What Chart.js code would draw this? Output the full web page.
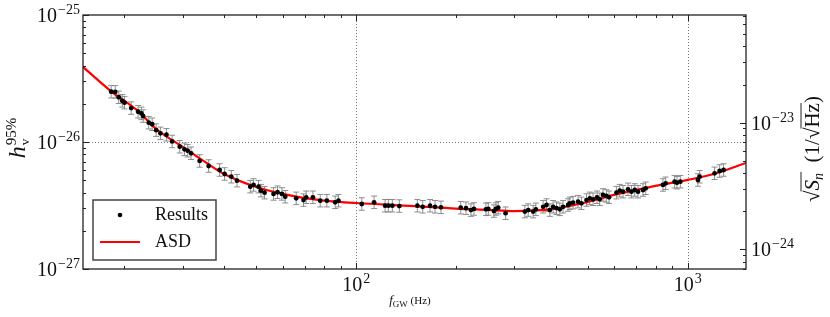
<!DOCTYPE html>
<html>
<head>
<meta charset="utf-8">
<script src="https://cdn.jsdelivr.net/npm/chart.js@4.4.1/dist/chart.umd.min.js"></script>
<style>
  html, body { margin: 0; padding: 0; background: #fff; }
</style>
</head>
<body>
<canvas id="chart" width="830" height="317"></canvas>
<script>
// 95% upper limits per frequency bin
const resultFreqs = [
  18.24, 18.76, 19.23, 19.70, 20.01, 20.96, 22.00, 22.51, 22.78, 23.68,
  24.25, 24.93, 25.68, 26.78, 27.86, 29.37, 30.34, 31.04, 31.78, 33.73,
  35.91, 38.75, 40.11, 42.02, 43.72, 47.94, 49.05, 50.77, 51.64, 52.94,
  56.35, 57.94, 59.73, 61.11, 65.96, 69.38, 70.69, 74.06, 77.92, 81.61,
  86.45, 88.46, 104.0, 113.3, 122.3, 125.1, 128.6, 135.0, 153.0, 158.8,
  167.1, 173.0, 180.3, 206.8, 214.5, 222.0, 226.7, 246.4, 250.4, 260.4,
  264.1, 268.3, 282.4, 322.8, 330.4, 342.0, 348.5, 366.6, 375.3, 384.0,
  392.9, 402.2, 411.5, 421.0, 435.9, 441.0, 451.2, 467.2, 478.3, 495.3,
  506.8, 518.5, 533.0, 543.0, 555.6, 568.8, 579.4, 609.8, 624.0, 638.5,
  661.1, 676.8, 692.5, 708.5, 733.5, 747.3, 842.5, 858.4, 913.6, 928.5,
  950.6, 1074, 1087, 1206, 1249, 1284
];
const resultLimits = [
  2.49e-26, 2.48e-26, 2.25e-26, 2.11e-26, 2.04e-26, 1.85e-26, 1.73e-26, 1.68e-26, 1.60e-26, 1.42e-26,
  1.38e-26, 1.24e-26, 1.17e-26, 1.14e-26, 1.01e-26, 9.18e-27, 8.76e-27, 8.54e-27, 8.15e-27, 7.09e-27,
  6.47e-27, 6.02e-27, 5.60e-27, 5.33e-27, 4.96e-27, 4.45e-27, 4.59e-27, 4.45e-27, 4.14e-27, 3.99e-27,
  3.90e-27, 4.02e-27, 3.90e-27, 3.71e-27, 3.60e-27, 3.49e-27, 3.67e-27, 3.67e-27, 3.45e-27, 3.45e-27,
  3.35e-27, 3.45e-27, 3.25e-27, 3.35e-27, 3.15e-27, 3.15e-27, 3.15e-27, 3.13e-27, 3.15e-27, 3.09e-27,
  3.15e-27, 3.09e-27, 3.06e-27, 3.04e-27, 3.01e-27, 2.91e-27, 2.97e-27, 2.95e-27, 2.97e-27, 2.86e-27,
  2.97e-27, 3.04e-27, 2.75e-27, 2.83e-27, 2.91e-27, 2.83e-27, 2.95e-27, 3.09e-27, 3.19e-27, 2.91e-27,
  3.09e-27, 3.01e-27, 2.95e-27, 3.09e-27, 3.19e-27, 3.29e-27, 3.33e-27, 3.39e-27, 3.29e-27, 3.49e-27,
  3.60e-27, 3.54e-27, 3.67e-27, 3.54e-27, 3.83e-27, 3.76e-27, 3.67e-27, 3.99e-27, 4.14e-27, 4.06e-27,
  4.24e-27, 4.06e-27, 4.19e-27, 4.06e-27, 4.19e-27, 4.32e-27, 4.59e-27, 4.73e-27, 4.87e-27, 4.78e-27,
  4.87e-27, 5.02e-27, 5.33e-27, 5.67e-27, 5.91e-27, 6.02e-27
];
const errFactor = 1.12; // grey bars, multiplicative half-length

// detector ASD scaled to the same axis
const asdFreqs = [15, 18.2, 22, 25, 30, 35, 40, 50, 60, 70, 80, 100, 150, 200, 250, 300, 350, 400, 500, 600, 700, 800, 1000, 1200, 1500];
const asdValues = [
  3.90e-26, 2.52e-26, 1.75e-26, 1.26e-26, 9.14e-27, 6.97e-27, 5.60e-27, 4.42e-27, 3.90e-27, 3.62e-27,
  3.46e-27, 3.31e-27, 3.13e-27, 2.99e-27, 2.92e-27, 2.86e-27, 2.89e-27, 2.99e-27, 3.37e-27, 3.83e-27,
  4.19e-27, 4.51e-27, 5.03e-27, 5.60e-27, 6.84e-27
];

const xMajorTicks = [100, 1000];
const xMajorLabels = ["2", "3"];
const yMajorTicks = [1e-27, 1e-26, 1e-25];
const yMajorLabels = ["\u221227", "\u221226", "\u221225"];
const y2MajorTicks = [1e-24, 1e-23];
const y2MajorLabels = ["\u221224", "\u221223"];

const serif = '"Liberation Serif", "DejaVu Serif", serif';

function logTicks(min, max) {
  const out = [];
  const lo = Math.floor(Math.log10(min));
  const hi = Math.ceil(Math.log10(max));
  for (let d = lo; d <= hi; d++) {
    for (let m = 1; m < 10; m++) {
      const v = m * Math.pow(10, d);
      if (v >= min * 0.999 && v <= max * 1.001) out.push({ v: v, major: m === 1 });
    }
  }
  return out;
}

function drawPow(ctx, exp, x, yc, align) {
  ctx.font = "20px " + serif;
  const bw = ctx.measureText("10").width;
  ctx.font = "14px " + serif;
  const ew = ctx.measureText(exp).width;
  let left = x;
  if (align === "right") left = x - bw - ew - 1;
  if (align === "center") left = x - (bw + ew + 1) / 2;
  ctx.textAlign = "left";
  ctx.textBaseline = "alphabetic";
  ctx.font = "20px " + serif;
  ctx.fillText("10", left, yc + 7);
  ctx.font = "14px " + serif;
  ctx.fillText(exp, left + bw + 1, yc - 1);
}

// runs of text along a baseline, centred on x; returns each run's start
function drawRuns(ctx, runs, x, y) {
  let w = 0;
  runs.forEach((r) => {
    ctx.font = r.font;
    r.w = ctx.measureText(r.text).width;
    w += r.w;
  });
  let cx = x - w / 2;
  ctx.textAlign = "left";
  ctx.textBaseline = "alphabetic";
  return runs.map((r) => {
    ctx.font = r.font;
    ctx.fillText(r.text, cx, y + (r.dy || 0));
    const start = cx;
    cx += r.w;
    return start;
  });
}

const axesPlugin = {
  id: "axesPlugin",
  beforeDatasetsDraw(chart) {
    const { ctx, chartArea: a } = chart;
    const xs = chart.scales.x, ys = chart.scales.y;
    ctx.save();
    // dotted grid at major ticks
    ctx.strokeStyle = "#777";
    ctx.lineWidth = 1;
    ctx.setLineDash([1, 2]);
    xMajorTicks.forEach((v) => {
      const px = Math.round(xs.getPixelForValue(v)) + 0.5;
      ctx.beginPath(); ctx.moveTo(px, a.top); ctx.lineTo(px, a.bottom); ctx.stroke();
    });
    yMajorTicks.forEach((v) => {
      const py = Math.round(ys.getPixelForValue(v)) + 0.5;
      if (py <= a.top + 1 || py >= a.bottom - 1) return;
      ctx.beginPath(); ctx.moveTo(a.left, py); ctx.lineTo(a.right, py); ctx.stroke();
    });
    ctx.setLineDash([]);
    // error bars
    ctx.strokeStyle = "rgba(130,130,130,0.9)";
    ctx.lineWidth = 1;
    chart.data.datasets[1].data.forEach((p) => {
      const px = xs.getPixelForValue(p.x);
      const top = ys.getPixelForValue(p.y * errFactor);
      const bot = ys.getPixelForValue(p.y / errFactor);
      ctx.beginPath();
      ctx.moveTo(px, top); ctx.lineTo(px, bot);
      ctx.moveTo(px - 3, top); ctx.lineTo(px + 3, top);
      ctx.moveTo(px - 3, bot); ctx.lineTo(px + 3, bot);
      ctx.stroke();
    });
    ctx.restore();
  },
  afterDraw(chart) {
    const { ctx, chartArea: a } = chart;
    const xs = chart.scales.x, ys = chart.scales.y, y2 = chart.scales.y2;
    ctx.save();
    ctx.strokeStyle = "#222";
    ctx.fillStyle = "#222";
    ctx.lineWidth = 1;
    // inward ticks
    ctx.beginPath();
    logTicks(xs.min, xs.max).forEach((t) => {
      const px = Math.round(xs.getPixelForValue(t.v)) + 0.5;
      const len = t.major ? 6 : 3;
      ctx.moveTo(px, a.bottom); ctx.lineTo(px, a.bottom - len);
      ctx.moveTo(px, a.top); ctx.lineTo(px, a.top + len);
    });
    logTicks(ys.min, ys.max).forEach((t) => {
      const py = Math.round(ys.getPixelForValue(t.v)) + 0.5;
      const len = t.major ? 6 : 3;
      ctx.moveTo(a.left, py); ctx.lineTo(a.left + len, py);
    });
    logTicks(y2.min, y2.max).forEach((t) => {
      const py = Math.round(y2.getPixelForValue(t.v)) + 0.5;
      const len = t.major ? 6 : 3;
      ctx.moveTo(a.right, py); ctx.lineTo(a.right - len, py);
    });
    ctx.stroke();
    // frame
    ctx.lineWidth = 1.3;
    ctx.strokeRect(a.left, a.top, a.right - a.left, a.bottom - a.top);

    // tick labels
    ctx.fillStyle = "#111";
    xMajorTicks.forEach((v, i) => drawPow(ctx, xMajorLabels[i], xs.getPixelForValue(v), 284, "center"));
    yMajorTicks.forEach((v, i) => drawPow(ctx, yMajorLabels[i], a.left - 3, ys.getPixelForValue(v), "right"));
    y2MajorTicks.forEach((v, i) => drawPow(ctx, y2MajorLabels[i], a.right + 5, y2.getPixelForValue(v), "left"));

    // x title
    drawRuns(ctx, [
      { text: "f", font: "italic 13px " + serif },
      { text: "GW", font: "9px " + serif, dy: 3 },
      { text: " (Hz)", font: "11px " + serif }
    ], 410, 304);

    // left title
    ctx.save();
    ctx.translate(25, 138);
    ctx.rotate(-Math.PI / 2);
    ctx.textBaseline = "alphabetic";
    ctx.textAlign = "left";
    ctx.font = "italic 24px " + serif;
    const hw = ctx.measureText("h").width;
    ctx.font = "15px " + serif;
    const sw = ctx.measureText("95%").width;
    const x0 = -(hw + sw + 1) / 2;
    ctx.font = "italic 24px " + serif;
    ctx.fillText("h", x0, 0);
    ctx.font = "15px " + serif;
    ctx.fillText("95%", x0 + hw + 1, -9);
    ctx.font = "13px " + serif;
    ctx.fillText("v", x0 + hw + 1, 4);
    ctx.restore();

    // right title
    ctx.save();
    ctx.translate(819, 149);
    ctx.rotate(-Math.PI / 2);
    const big = "21px " + serif;
    const runs = [
      { text: "\u221a", font: big },
      { text: "S", font: "italic 21px " + serif },
      { text: "n", font: "italic 14px " + serif, dy: 4 },
      { text: "  (1/", font: big },
      { text: "\u221a", font: big },
      { text: "Hz", font: big },
      { text: ")", font: big }
    ];
    const pos = drawRuns(ctx, runs, 0, 0);
    ctx.lineWidth = 1;
    ctx.beginPath();
    ctx.moveTo(pos[1] - 1, -18); ctx.lineTo(pos[2] + runs[2].w + 1, -18);
    ctx.moveTo(pos[5] - 1, -18); ctx.lineTo(pos[6], -18);
    ctx.stroke();
    ctx.restore();

    // legend
    const lx = 93, ly = 200, lw = 123, lh = 60;
    ctx.fillStyle = "#fff";
    ctx.fillRect(lx, ly, lw, lh);
    ctx.strokeStyle = "#444";
    ctx.lineWidth = 1.5;
    ctx.strokeRect(lx, ly, lw, lh);
    ctx.fillStyle = "#000";
    ctx.beginPath(); ctx.arc(120, 215, 2.3, 0, Math.PI * 2); ctx.fill();
    ctx.strokeStyle = "#ff0000";
    ctx.lineWidth = 2;
    ctx.beginPath(); ctx.moveTo(100, 242); ctx.lineTo(140, 242); ctx.stroke();
    ctx.fillStyle = "#111";
    ctx.font = "18px " + serif;
    ctx.textAlign = "left";
    ctx.textBaseline = "middle";
    ctx.fillText("Results", 155, 215);
    ctx.fillText("ASD", 155, 242);
    ctx.restore();
  }
};

new Chart(document.getElementById("chart"), {
  type: "scatter",
  data: {
    datasets: [
      {
        label: "ASD",
        data: asdFreqs.map((f, i) => ({ x: f, y: asdValues[i] })),
        showLine: true,
        borderColor: "#ff0000",
        borderWidth: 2.2,
        pointRadius: 0,
        cubicInterpolationMode: "monotone",
        order: 2
      },
      {
        label: "Results",
        data: resultFreqs.map((f, i) => ({ x: f, y: resultLimits[i] })),
        showLine: false,
        pointRadius: 2.4,
        pointBackgroundColor: "#000",
        pointBorderColor: "#000",
        pointBorderWidth: 0,
        order: 1
      }
    ]
  },
  options: {
    responsive: false,
    animation: false,
    layout: { padding: { left: 83, right: 84, top: 15, bottom: 48 } },
    plugins: { legend: { display: false }, tooltip: { enabled: false } },
    scales: {
      x: { type: "logarithmic", min: 15, max: 1500, display: false },
      y: { type: "logarithmic", min: 1e-27, max: 1e-25, display: false },
      y2: { type: "logarithmic", position: "right", min: 7.08e-25, max: 7.08e-23, display: false }
    }
  },
  plugins: [axesPlugin]
});
</script>
</body>
</html>
